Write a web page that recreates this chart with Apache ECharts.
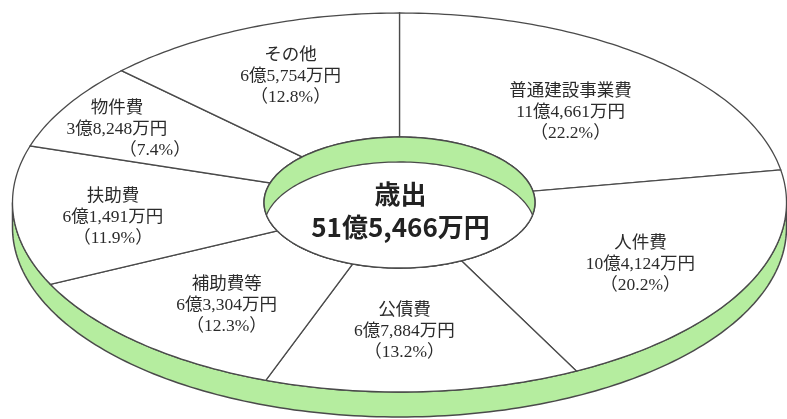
<!DOCTYPE html>
<html>
<head>
<meta charset="utf-8">
<script src="https://cdn.jsdelivr.net/npm/echarts@6/dist/echarts.min.js"></script>
<style>
html,body{margin:0;padding:0;background:#fff;}
#chart{width:787px;height:419px;}
</style>
</head>
<body>
<div id="chart"></div>
<script>
// ---- data ----
const categories = ['普通建設事業費', '人件費', '公債費', '補助費等', '扶助費', '物件費', 'その他'];
const amounts = [114661, 104124, 67884, 63304, 61491, 38248, 65754]; // 万円
const centerTitle = '歳出';

// ---- styles / geometry ----
const GREEN = '#b5ed9f';
const LINE = '#4a4a4a';
const TEXT = '#2b2b2b';
const labelNudge = [[3, 8], [7, 5], [-11, 2], [3, 9], [-26, 6], [-58, -8], [-7, -9]];
const pctShift = [0, 0, 0, 0, 0, 38, 0];
const SERIF = '"Liberation Serif", "Noto Sans CJK JP", serif';
const SANS = '"Noto Sans CJK JP", "Noto Sans", sans-serif';

const total = amounts.reduce((a, b) => a + b, 0);
const cum = [];
amounts.reduce((acc, v, i) => { cum[i] = acc; return acc + v; }, 0);

function fmtYen(v) {
  const oku = Math.floor(v / 10000);
  const man = v % 10000;
  const manStr = man.toLocaleString('en-US');
  return (oku > 0 ? oku + '億' : '') + manStr + '万円';
}

function geom(api) {
  const W = api.getWidth(), H = api.getHeight();
  return {
    cx: W * 399.5 / 787, cy: H * 202.5 / 419,
    rx: W * 387 / 787, ry: H * 189.5 / 419,
    rxIn: W * 135.5 / 787, ryIn: H * 65.5 / 419,
    depth: H * 25 / 419
  };
}
function pt(cx, cy, rx, ry, t) { return [cx + rx * Math.cos(t), cy - ry * Math.sin(t)]; }
function arc(cx, cy, rx, ry, t0, t1, n) {
  const pts = [];
  for (let k = 0; k <= n; k++) { const t = t0 + (t1 - t0) * k / n; pts.push(pt(cx, cy, rx, ry, t)); }
  return pts;
}

// rim (side of the ring)
function renderRim(params, api) {
  const g = geom(api);
  const top = arc(g.cx, g.cy, g.rx, g.ry, 0, -Math.PI, 160);
  const bottom = arc(g.cx, g.cy + g.depth, g.rx, g.ry, -Math.PI, 0, 160);
  return {
    type: 'polygon',
    shape: { points: top.concat(bottom) },
    style: { fill: GREEN, stroke: LINE, lineWidth: 1.5 }
  };
}

// slices (top surface)
function renderSlice(params, api) {
  const i = api.value(0);
  const g = geom(api);
  const t0 = Math.PI / 2 - 2 * Math.PI * cum[i] / total;
  const t1 = Math.PI / 2 - 2 * Math.PI * (cum[i] + amounts[i]) / total;
  const n = Math.max(8, Math.ceil(Math.abs(t1 - t0) * 60));
  const outer = arc(g.cx, g.cy, g.rx, g.ry, t0, t1, n);
  const inner = arc(g.cx, g.cy, g.rxIn, g.ryIn, t1, t0, n);
  const tm = (t0 + t1) / 2;
  const lp = pt(g.cx, g.cy, (g.rx + g.rxIn) / 2, (g.ry + g.ryIn) / 2, tm);
  const pct = (amounts[i] / total * 100).toFixed(1);
  const nud = labelNudge[i] || [0, 0];
  const x = lp[0] + nud[0], y = lp[1] + nud[1];
  const base = { align: 'center', verticalAlign: 'middle', fontSize: 17.5, lineHeight: 21, fontFamily: SERIF, fill: TEXT };
  return {
    type: 'group',
    children: [
      {
        type: 'polygon',
        shape: { points: outer.concat(inner) },
        style: { fill: '#ffffff', stroke: LINE, lineWidth: 1.3 }
      },
      {
        type: 'text', z2: 10,
        style: Object.assign({ text: categories[i] + '\n' + fmtYen(amounts[i]), x: x, y: y - 10.5 }, base)
      },
      {
        type: 'text', z2: 10,
        style: Object.assign({ text: '（' + pct + '%）', x: x + (pctShift[i] || 0), y: y + 21 }, base)
      }
    ]
  };
}

// hole in the middle with total
function renderHole(params, api) {
  const g = geom(api);
  const d = g.depth;
  const opening = arc(g.cx, g.cy, g.rxIn, g.ryIn, 0, 2 * Math.PI, 160);
  const a = Math.asin(Math.min(1, d / (2 * g.ryIn)));
  const lower = arc(g.cx, g.cy, g.rxIn, g.ryIn, -a, a - Math.PI, 100);
  const upper = arc(g.cx, g.cy + d, g.rxIn, g.ryIn, Math.PI - a, a, 100);
  return {
    type: 'group',
    children: [
      { type: 'polygon', shape: { points: opening }, style: { fill: GREEN, stroke: LINE, lineWidth: 1.5 } },
      { type: 'polygon', shape: { points: lower.concat(upper) }, style: { fill: '#ffffff', stroke: LINE, lineWidth: 1.3 } },
      {
        type: 'text', z2: 10,
        style: {
          text: centerTitle + '\n' + fmtYen(total),
          x: g.cx + 1, y: g.cy + 8,
          align: 'center', verticalAlign: 'middle',
          fontSize: 26, lineHeight: 33, fontWeight: 'bold',
          fontFamily: SANS, fill: '#222'
        }
      }
    ]
  };
}

const chart = echarts.init(document.getElementById('chart'), null, { renderer: 'canvas' });
chart.setOption({
  backgroundColor: '#ffffff',
  animation: false,
  series: [
    { type: 'custom', coordinateSystem: 'none', z: 1, silent: true, renderItem: renderRim, data: [[0]] },
    { type: 'custom', coordinateSystem: 'none', z: 2, silent: true, renderItem: renderSlice,
      data: amounts.map((v, i) => [i, v]) },
    { type: 'custom', coordinateSystem: 'none', z: 3, silent: true, renderItem: renderHole, data: [[0]] }
  ]
});
</script>
</body>
</html>
